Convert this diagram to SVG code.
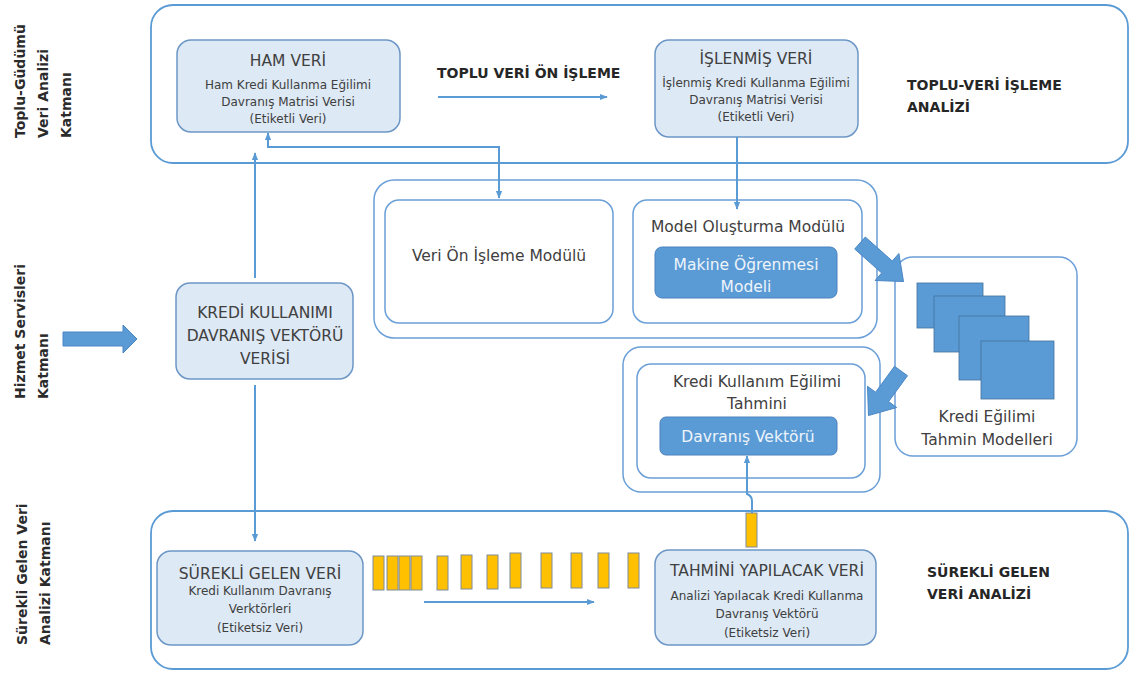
<svg xmlns="http://www.w3.org/2000/svg" width="1131" height="674" viewBox="0 0 1131 674">
<defs>
<marker id="ah" viewBox="0 0 10 10" refX="9" refY="5" markerWidth="8" markerHeight="8" markerUnits="userSpaceOnUse" orient="auto-start-reverse">
<path d="M0,1 L10,5 L0,9 Z" fill="#5b9bd5"/>
</marker>
<style>
.panel{fill:#fff;stroke:#5b9bd5;stroke-width:1.8}
.frame{fill:#fff;stroke:#6a9fd8;stroke-width:1.5}
.data{fill:#dde9f5;stroke:#6c96c6;stroke-width:1.5}
.dark{fill:#5b9bd5;stroke:#4a82bd;stroke-width:1}
.sq{fill:#5b9bd5;stroke:#41719c;stroke-width:0.8}
.yel{fill:#ffc000;stroke:#7f8c9c;stroke-width:1}
.con{fill:none;stroke:#5b9bd5;stroke-width:2}
.blk{fill:#5b9bd5;stroke:#4a86c5;stroke-width:1}
text{font-family:"DejaVu Sans","Liberation Sans",sans-serif;fill:#404040}
.t{font-size:15.5px;text-anchor:middle}
.s{font-size:12px;text-anchor:middle}
.b{font-size:14px;font-weight:bold;fill:#262626}
.w{font-size:15.5px;text-anchor:middle;fill:#eef4fb}
.side{font-size:14px;font-weight:bold;fill:#2b2b2b}
</style>
</defs>

<g id="side-labels">
<text class="side" transform="translate(25,138) rotate(-90)">Toplu-Güdümü</text>
<text class="side" transform="translate(48,138) rotate(-90)">Veri Analizi</text>
<text class="side" transform="translate(71,138) rotate(-90)">Katmanı</text>
<text class="side" transform="translate(25,399) rotate(-90)">Hizmet Servisleri</text>
<text class="side" transform="translate(48,399) rotate(-90)">Katmanı</text>
<text class="side" transform="translate(27,645) rotate(-90)">Sürekli Gelen Veri</text>
<text class="side" transform="translate(50,645) rotate(-90)">Analizi Katmanı</text>
</g>

<g id="panel-top">
<rect class="panel" x="151" y="5" width="977" height="158" rx="22"/>
<text class="b" x="437" y="78">TOPLU VERİ ÖN İŞLEME</text>
<text class="b" x="907" y="90">TOPLU-VERİ İŞLEME</text>
<text class="b" x="907" y="112">ANALİZİ</text>
</g>

<g id="panel-bottom">
<rect class="panel" x="151" y="511" width="977" height="158" rx="22"/>
<text class="b" x="927" y="577">SÜREKLİ GELEN</text>
<text class="b" x="927" y="599">VERİ ANALİZİ</text>
</g>

<g id="services-frame">
<rect class="frame" x="374" y="180" width="503" height="158" rx="20"/>
</g>

<g id="ham-veri">
<rect class="data" x="177" y="40" width="223" height="92" rx="14"/>
<text class="t" x="288" y="66">HAM VERİ</text>
<text class="s" x="288" y="89">Ham Kredi Kullanma Eğilimi</text>
<text class="s" x="288" y="106">Davranış Matrisi Verisi</text>
<text class="s" x="288" y="123">(Etiketli Veri)</text>
</g>

<g id="islenmis-veri">
<rect class="data" x="655" y="40" width="203" height="97" rx="14"/>
<text class="t" x="756" y="64">İŞLENMİŞ VERİ</text>
<text class="s" x="756" y="87">İşlenmiş Kredi Kullanma Eğilimi</text>
<text class="s" x="756" y="104">Davranış Matrisi Verisi</text>
<text class="s" x="756" y="121">(Etiketli Veri)</text>
</g>

<g id="veri-on-isleme-modulu">
<rect class="frame" x="385" y="200" width="228" height="123" rx="14"/>
<text class="t" x="499" y="261">Veri Ön İşleme Modülü</text>
</g>

<g id="model-olusturma-modulu">
<rect class="frame" x="633" y="200" width="229" height="123" rx="14"/>
<text class="t" x="748" y="232">Model Oluşturma Modülü</text>
<rect class="dark" x="655" y="247" width="182" height="51" rx="7"/>
<text class="w" x="746" y="270">Makine Öğrenmesi</text>
<text class="w" x="746" y="292">Modeli</text>
</g>

<g id="kredi-egilimi-tahmin-modelleri">
<rect class="frame" x="895" y="257" width="182" height="199" rx="18"/>
<rect class="sq" x="917" y="283" width="66" height="45"/>
<rect class="sq" x="934" y="296" width="71" height="56"/>
<rect class="sq" x="959" y="316" width="70" height="64"/>
<rect class="sq" x="981" y="341" width="73" height="58"/>
<text class="t" x="987" y="422">Kredi Eğilimi</text>
<text class="t" x="987" y="445">Tahmin Modelleri</text>
</g>

<g id="kredi-kullanim-egilimi-tahmini">
<rect class="frame" x="623" y="347" width="257" height="145" rx="18"/>
<rect class="frame" x="637" y="364" width="228" height="114" rx="14"/>
<text class="t" x="757" y="387">Kredi Kullanım Eğilimi</text>
<text class="t" x="757" y="409">Tahmini</text>
<rect class="dark" x="660" y="417" width="177" height="38" rx="6"/>
<text class="w" x="748" y="442">Davranış Vektörü</text>
</g>

<g id="kredi-kullanimi-vektoru">
<rect class="data" x="176" y="283" width="177" height="96" rx="14"/>
<text class="t" x="265" y="318">KREDİ KULLANIMI</text>
<text class="t" x="265" y="341">DAVRANIŞ VEKTÖRÜ</text>
<text class="t" x="265" y="364">VERİSİ</text>
</g>

<g id="surekli-gelen-veri">
<rect class="data" x="157" y="551" width="206" height="94" rx="14"/>
<text class="t" x="260" y="579">SÜREKLİ GELEN VERİ</text>
<text class="s" x="260" y="595">Kredi Kullanım Davranış</text>
<text class="s" x="260" y="613">Verktörleri</text>
<text class="s" x="260" y="632">(Etiketsiz Veri)</text>
</g>

<g id="tahmini-yapilacak-veri">
<rect class="data" x="655" y="550" width="221" height="95" rx="14"/>
<text class="t" x="767" y="576">TAHMİNİ YAPILACAK VERİ</text>
<text class="s" x="767" y="600">Analizi Yapılacak Kredi Kullanma</text>
<text class="s" x="767" y="618">Davranış Vektörü</text>
<text class="s" x="767" y="637">(Etiketsiz Veri)</text>
</g>

<g id="data-stream">
<rect class="yel" x="373" y="556" width="11" height="34"/>
<rect class="yel" x="387" y="556" width="11" height="34"/>
<rect class="yel" x="399" y="556" width="11" height="34"/>
<rect class="yel" x="411" y="556" width="11" height="34"/>
<rect class="yel" x="437" y="556" width="11" height="34"/>
<rect class="yel" x="461" y="555" width="11" height="34"/>
<rect class="yel" x="487" y="555" width="11" height="34"/>
<rect class="yel" x="510" y="553" width="11" height="35"/>
<rect class="yel" x="541" y="553" width="11" height="35"/>
<rect class="yel" x="571" y="553" width="11" height="35"/>
<rect class="yel" x="598" y="553" width="11" height="35"/>
<rect class="yel" x="628" y="553" width="11" height="35"/>
<rect class="yel" x="746" y="513" width="11" height="34"/>
</g>

<g id="connectors">
<path class="con" d="M438,97 H607" marker-end="url(#ah)"/>
<path class="con" d="M424,602 H594" marker-end="url(#ah)"/>
<path class="con" d="M268,133 V147 H499 V198" marker-start="url(#ah)" marker-end="url(#ah)"/>
<path class="con" d="M737,137 V209" marker-end="url(#ah)"/>
<path class="con" d="M255,278 V153" marker-end="url(#ah)"/>
<path class="con" d="M255,385 V541" marker-end="url(#ah)"/>
<path class="con" d="M752,513 V501 Q752,496 747,494 V456" marker-end="url(#ah)"/>
<polygon class="blk" points="63,332 123,332 123,325 137,339 123,353 123,346 63,346"/>
<polygon class="blk" points="865.3,237 892.3,261 898.9,253.5 903.5,281.5 875.1,280.5 881.7,273 854.7,249"/>
<polygon class="blk" points="894.5,366.3 907.5,375.7 888.6,401.6 896.7,407.5 868.5,415.5 867.5,386.3 875.6,392.2"/>
</g>
</svg>
